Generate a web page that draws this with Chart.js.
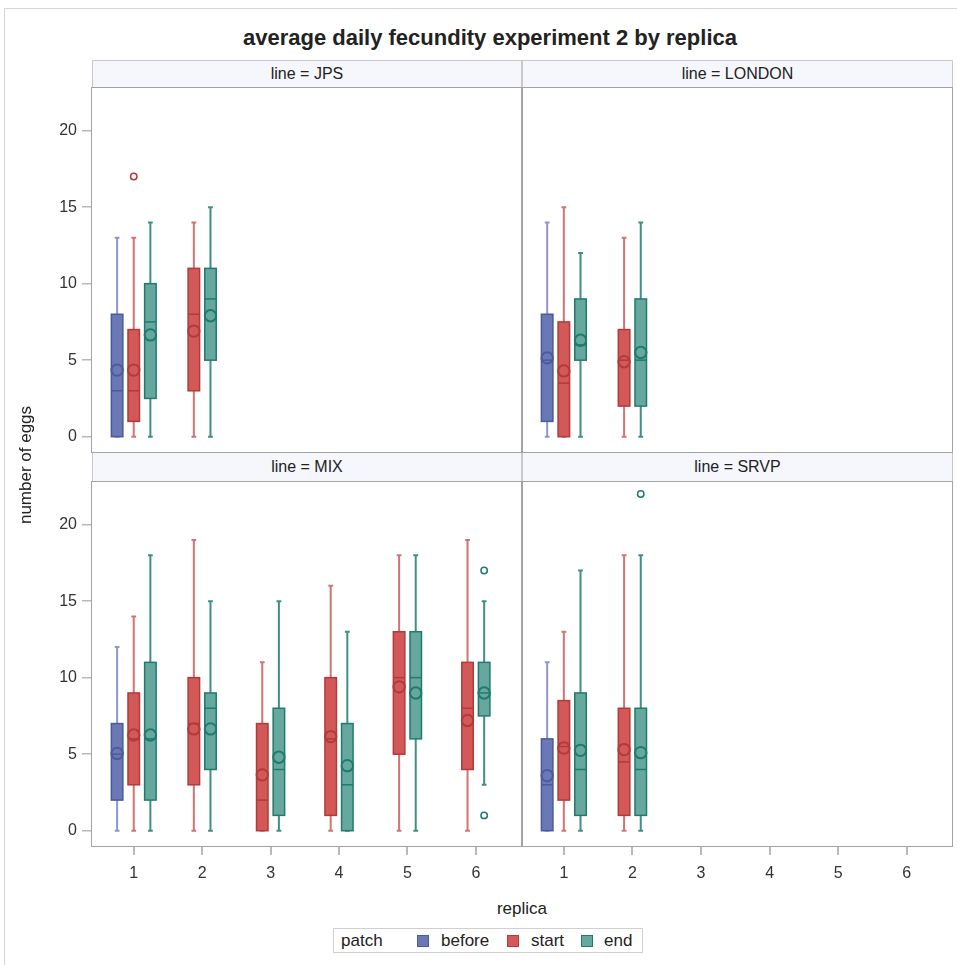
<!DOCTYPE html>
<html>
<head>
<meta charset="utf-8">
<script src="https://cdn.jsdelivr.net/npm/chart.js@4.4.1/dist/chart.umd.min.js"></script>
<style>
  body { margin: 0; background: #fff; font-family: "Liberation Sans", Arial, sans-serif; color: #222; }
  #page { position: relative; width: 957px; height: 965px; overflow: hidden; }
  .abs { position: absolute; }
  .frame { position: absolute; box-sizing: border-box; border: 1px solid #a3a3a3; pointer-events: none; }
  .strip { position: absolute; box-sizing: border-box; border: 1px solid #c9c9c9; background: #f6f7fd;
           text-align: center; font-size: 16px; color: #222; }
  canvas { position: absolute; }
</style>
</head>
<body>
<div id="page">
  <div class="abs" style="left:4px;top:8px;width:980px;height:980px;border:1px solid #d4d4d4;"></div>
  <div class="abs" style="left:190px;top:25px;width:600px;text-align:center;font-weight:bold;font-size:22px;">average daily fecundity experiment 2 by replica</div>

  <div class="strip" style="left:92px;top:60px;width:430px;height:28px;line-height:26px;">line = JPS</div>
  <div class="strip" style="left:522px;top:60px;width:431px;height:28px;line-height:26px;">line = LONDON</div>
  <div class="strip" style="left:92px;top:452px;width:430px;height:30px;line-height:28px;">line = MIX</div>
  <div class="strip" style="left:522px;top:452px;width:431px;height:30px;line-height:28px;">line = SRVP</div>

  <canvas id="cJPS" width="521" height="365" style="left:0;top:87px;"></canvas>
  <canvas id="cLONDON" width="430" height="365" style="left:522px;top:87px;"></canvas>
  <canvas id="cMIX" width="521" height="409" style="left:0;top:481px;"></canvas>
  <canvas id="cSRVP" width="430" height="409" style="left:522px;top:481px;"></canvas>

  <div class="frame" style="left:91px;top:87px;width:431px;height:366px;"></div>
  <div class="frame" style="left:522px;top:87px;width:431px;height:366px;"></div>
  <div class="frame" style="left:91px;top:481px;width:431px;height:366px;"></div>
  <div class="frame" style="left:522px;top:481px;width:431px;height:366px;"></div>

  <div class="abs" style="left:26px;top:466px;width:0;height:0;">
    <div style="position:absolute;left:-100px;top:-11px;width:200px;text-align:center;font-size:17px;transform:rotate(-90deg);">number of eggs</div>
  </div>
  <div class="abs" style="left:422px;top:899px;width:200px;text-align:center;font-size:17px;">replica</div>

  <div class="abs" style="left:333px;top:928px;width:310px;height:25px;box-sizing:border-box;border:1px solid #cfcfcf;font-size:17px;line-height:23px;">
    <span class="abs" style="left:7px;">patch</span>
    <span class="abs" style="left:83px;top:6px;width:12px;height:12px;box-sizing:border-box;background:#6a78b5;border:1px solid #4a5a9e;"></span>
    <span class="abs" style="left:107px;">before</span>
    <span class="abs" style="left:173px;top:6px;width:12px;height:12px;box-sizing:border-box;background:#d35858;border:1px solid #b23a3a;"></span>
    <span class="abs" style="left:197px;">start</span>
    <span class="abs" style="left:247px;top:6px;width:12px;height:12px;box-sizing:border-box;background:#66a89e;border:1px solid #1f7b6d;"></span>
    <span class="abs" style="left:270px;">end</span>
  </div>
</div>

<script>
// tick values
const Y_TICKS = [0, 5, 10, 15, 20];
const X_TICKS = [1, 2, 3, 4, 5, 6];
const PATCHES = ["before", "start", "end"];

// box stats per panel: replica, patch, min, q1, median, q3, max, mean
const JPS_BOXES = [
  [1, "before", 0, 0, 3, 8, 13, 4.35],
  [1, "start", 0, 1, 3, 7, 13, 4.35],
  [1, "end", 0, 2.5, 7.5, 10, 14, 6.65],
  [2, "start", 0, 3, 8, 11, 14, 6.9],
  [2, "end", 0, 5, 9, 11, 15, 7.9]
];
const JPS_OUTLIERS = [[1, "start", 17]];

const LONDON_BOXES = [
  [1, "before", 0, 1, 5, 8, 14, 5.15],
  [1, "start", 0, 0, 3.5, 7.5, 15, 4.3],
  [1, "end", 0, 5, 6, 9, 12, 6.3],
  [2, "start", 0, 2, 5, 7, 13, 4.9],
  [2, "end", 0, 2, 5, 9, 14, 5.5]
];
const LONDON_OUTLIERS = [];

const MIX_BOXES = [
  [1, "before", 0, 2, 5, 7, 12, 5.05],
  [1, "start", 0, 3, 6, 9, 14, 6.25],
  [1, "end", 0, 2, 6, 11, 18, 6.25],
  [2, "start", 0, 3, 7, 10, 19, 6.65],
  [2, "end", 0, 4, 8, 9, 15, 6.65],
  [3, "start", 0, 0, 2, 7, 11, 3.65],
  [3, "end", 0, 1, 4, 8, 15, 4.8],
  [4, "start", 0, 1, 6, 10, 16, 6.15],
  [4, "end", 0, 0, 3, 7, 13, 4.25],
  [5, "start", 0, 5, 10, 13, 18, 9.4],
  [5, "end", 0, 6, 10, 13, 18, 9.0],
  [6, "start", 0, 4, 8, 11, 19, 7.2],
  [6, "end", 3, 7.5, 9, 11, 15, 9.0]
];
const MIX_OUTLIERS = [[6, "end", 17], [6, "end", 1]];

const SRVP_BOXES = [
  [1, "before", 0, 0, 3, 6, 11, 3.6],
  [1, "start", 0, 2, 5.5, 8.5, 13, 5.4],
  [1, "end", 0, 1, 4, 9, 17, 5.25],
  [2, "start", 0, 1, 4.5, 8, 18, 5.3],
  [2, "end", 0, 1, 4, 8, 18, 5.1]
];
const SRVP_OUTLIERS = [[2, "end", 22]];

const STYLE = {
  before: { fill: "#6a78b5", line: "#4a5a9e", whisker: "#8d97c9" },
  start: { fill: "#d35858", line: "#b23a3a", whisker: "#d27474" },
  end: { fill: "#66a89e", line: "#1f7b6d", whisker: "#3f8f84" }
};
const SLOT = 0.243;
const BOX_W = 0.168;
const CAP_W = 0.07;
const FONT = "'Liberation Sans', Arial, sans-serif";

// x position of a patch inside its replica cluster
const slotX = (rows, replica, patch) => {
  const present = PATCHES.filter((p) => rows.some((r) => r[0] === replica && r[1] === p));
  const idx = present.indexOf(patch);
  return replica + (idx - (present.length - 1) / 2) * SLOT;
};

const boxPlugin = (rows) => ({
  id: "boxes",
  beforeDatasetsDraw(chart) {
    const { ctx, chartArea, scales: { x, y } } = chart;
    ctx.save();
    ctx.beginPath();
    ctx.rect(chartArea.left, chartArea.top, chartArea.right - chartArea.left, chartArea.bottom - chartArea.top);
    ctx.clip();
    rows.forEach(([rep, patch, min, q1, med, q3, max]) => {
      const s = STYLE[patch];
      const cx = slotX(rows, rep, patch);
      const px = x.getPixelForValue(cx);
      const left = x.getPixelForValue(cx - BOX_W / 2);
      const right = x.getPixelForValue(cx + BOX_W / 2);
      const capL = x.getPixelForValue(cx - CAP_W / 2);
      const capR = x.getPixelForValue(cx + CAP_W / 2);
      const yMin = y.getPixelForValue(min);
      const yQ1 = y.getPixelForValue(q1);
      const yMed = y.getPixelForValue(med);
      const yQ3 = y.getPixelForValue(q3);
      const yMax = y.getPixelForValue(max);

      ctx.strokeStyle = s.whisker;
      ctx.lineWidth = 2;
      ctx.beginPath();
      ctx.moveTo(px, yMax); ctx.lineTo(px, yQ3);
      ctx.moveTo(px, yQ1); ctx.lineTo(px, yMin);
      ctx.moveTo(capL, yMax); ctx.lineTo(capR, yMax);
      ctx.moveTo(capL, yMin); ctx.lineTo(capR, yMin);
      ctx.stroke();

      ctx.fillStyle = s.fill;
      ctx.fillRect(left, yQ3, right - left, yQ1 - yQ3);
      ctx.strokeStyle = s.line;
      ctx.lineWidth = 1.5;
      ctx.strokeRect(left, yQ3, right - left, yQ1 - yQ3);
      ctx.lineWidth = 1.5;
      ctx.beginPath();
      ctx.moveTo(left, yMed); ctx.lineTo(right, yMed);
      ctx.stroke();
    });
    ctx.restore();
  }
});

const buildPanel = (id, rows, outliers, showY, showX) => {
  const datasets = [];
  PATCHES.forEach((patch) => {
    const s = STYLE[patch];
    datasets.push({
      label: patch + " mean",
      data: rows.filter((r) => r[1] === patch).map((r) => ({ x: slotX(rows, r[0], patch), y: r[7] })),
      pointRadius: 5.7,
      pointBorderWidth: 2,
      pointBorderColor: s.line,
      pointBackgroundColor: "rgba(0,0,0,0)"
    });
    datasets.push({
      label: patch + " outliers",
      data: outliers.filter((o) => o[1] === patch).map((o) => ({ x: slotX(rows, o[0], patch), y: o[2] })),
      pointRadius: 3.2,
      pointBorderWidth: 1.5,
      pointBorderColor: s.line,
      pointBackgroundColor: "rgba(0,0,0,0)"
    });
  });

  return new Chart(document.getElementById(id).getContext("2d"), {
    type: "scatter",
    data: { datasets },
    plugins: [boxPlugin(rows)],
    options: {
      responsive: false,
      animation: false,
      layout: { padding: 0, autoPadding: false },
      plugins: { legend: { display: false }, tooltip: { enabled: false } },
      scales: {
        x: {
          type: "linear",
          min: 0.39,
          max: 6.66,
          display: showX,
          afterBuildTicks: (scale) => { scale.ticks = X_TICKS.map((v) => ({ value: v })); },
          afterFit: (scale) => {
            scale.height = showX ? 44 : 0;
            scale.paddingLeft = 0;
            scale.paddingRight = 0;
          },
          grid: { drawOnChartArea: false, tickLength: 9, color: "#b9b9b9", lineWidth: 2 },
          border: { display: false },
          ticks: { color: "#333", font: { family: FONT, size: 16 }, padding: 9, maxRotation: 0 }
        },
        y: {
          min: -1.0,
          max: 22.85,
          display: showY,
          afterBuildTicks: (scale) => { scale.ticks = Y_TICKS.map((v) => ({ value: v })); },
          afterFit: (scale) => {
            scale.width = showY ? 92 : 0;
            scale.paddingTop = 0;
            scale.paddingBottom = 0;
          },
          grid: { drawOnChartArea: false, tickLength: 10, color: "#b9b9b9", lineWidth: 1.5 },
          border: { display: false },
          ticks: { color: "#333", font: { family: FONT, size: 16 }, padding: 5 }
        }
      }
    }
  });
};

buildPanel("cJPS", JPS_BOXES, JPS_OUTLIERS, true, false);
buildPanel("cLONDON", LONDON_BOXES, LONDON_OUTLIERS, false, false);
buildPanel("cMIX", MIX_BOXES, MIX_OUTLIERS, true, true);
buildPanel("cSRVP", SRVP_BOXES, SRVP_OUTLIERS, false, true);
</script>
</body>
</html>
